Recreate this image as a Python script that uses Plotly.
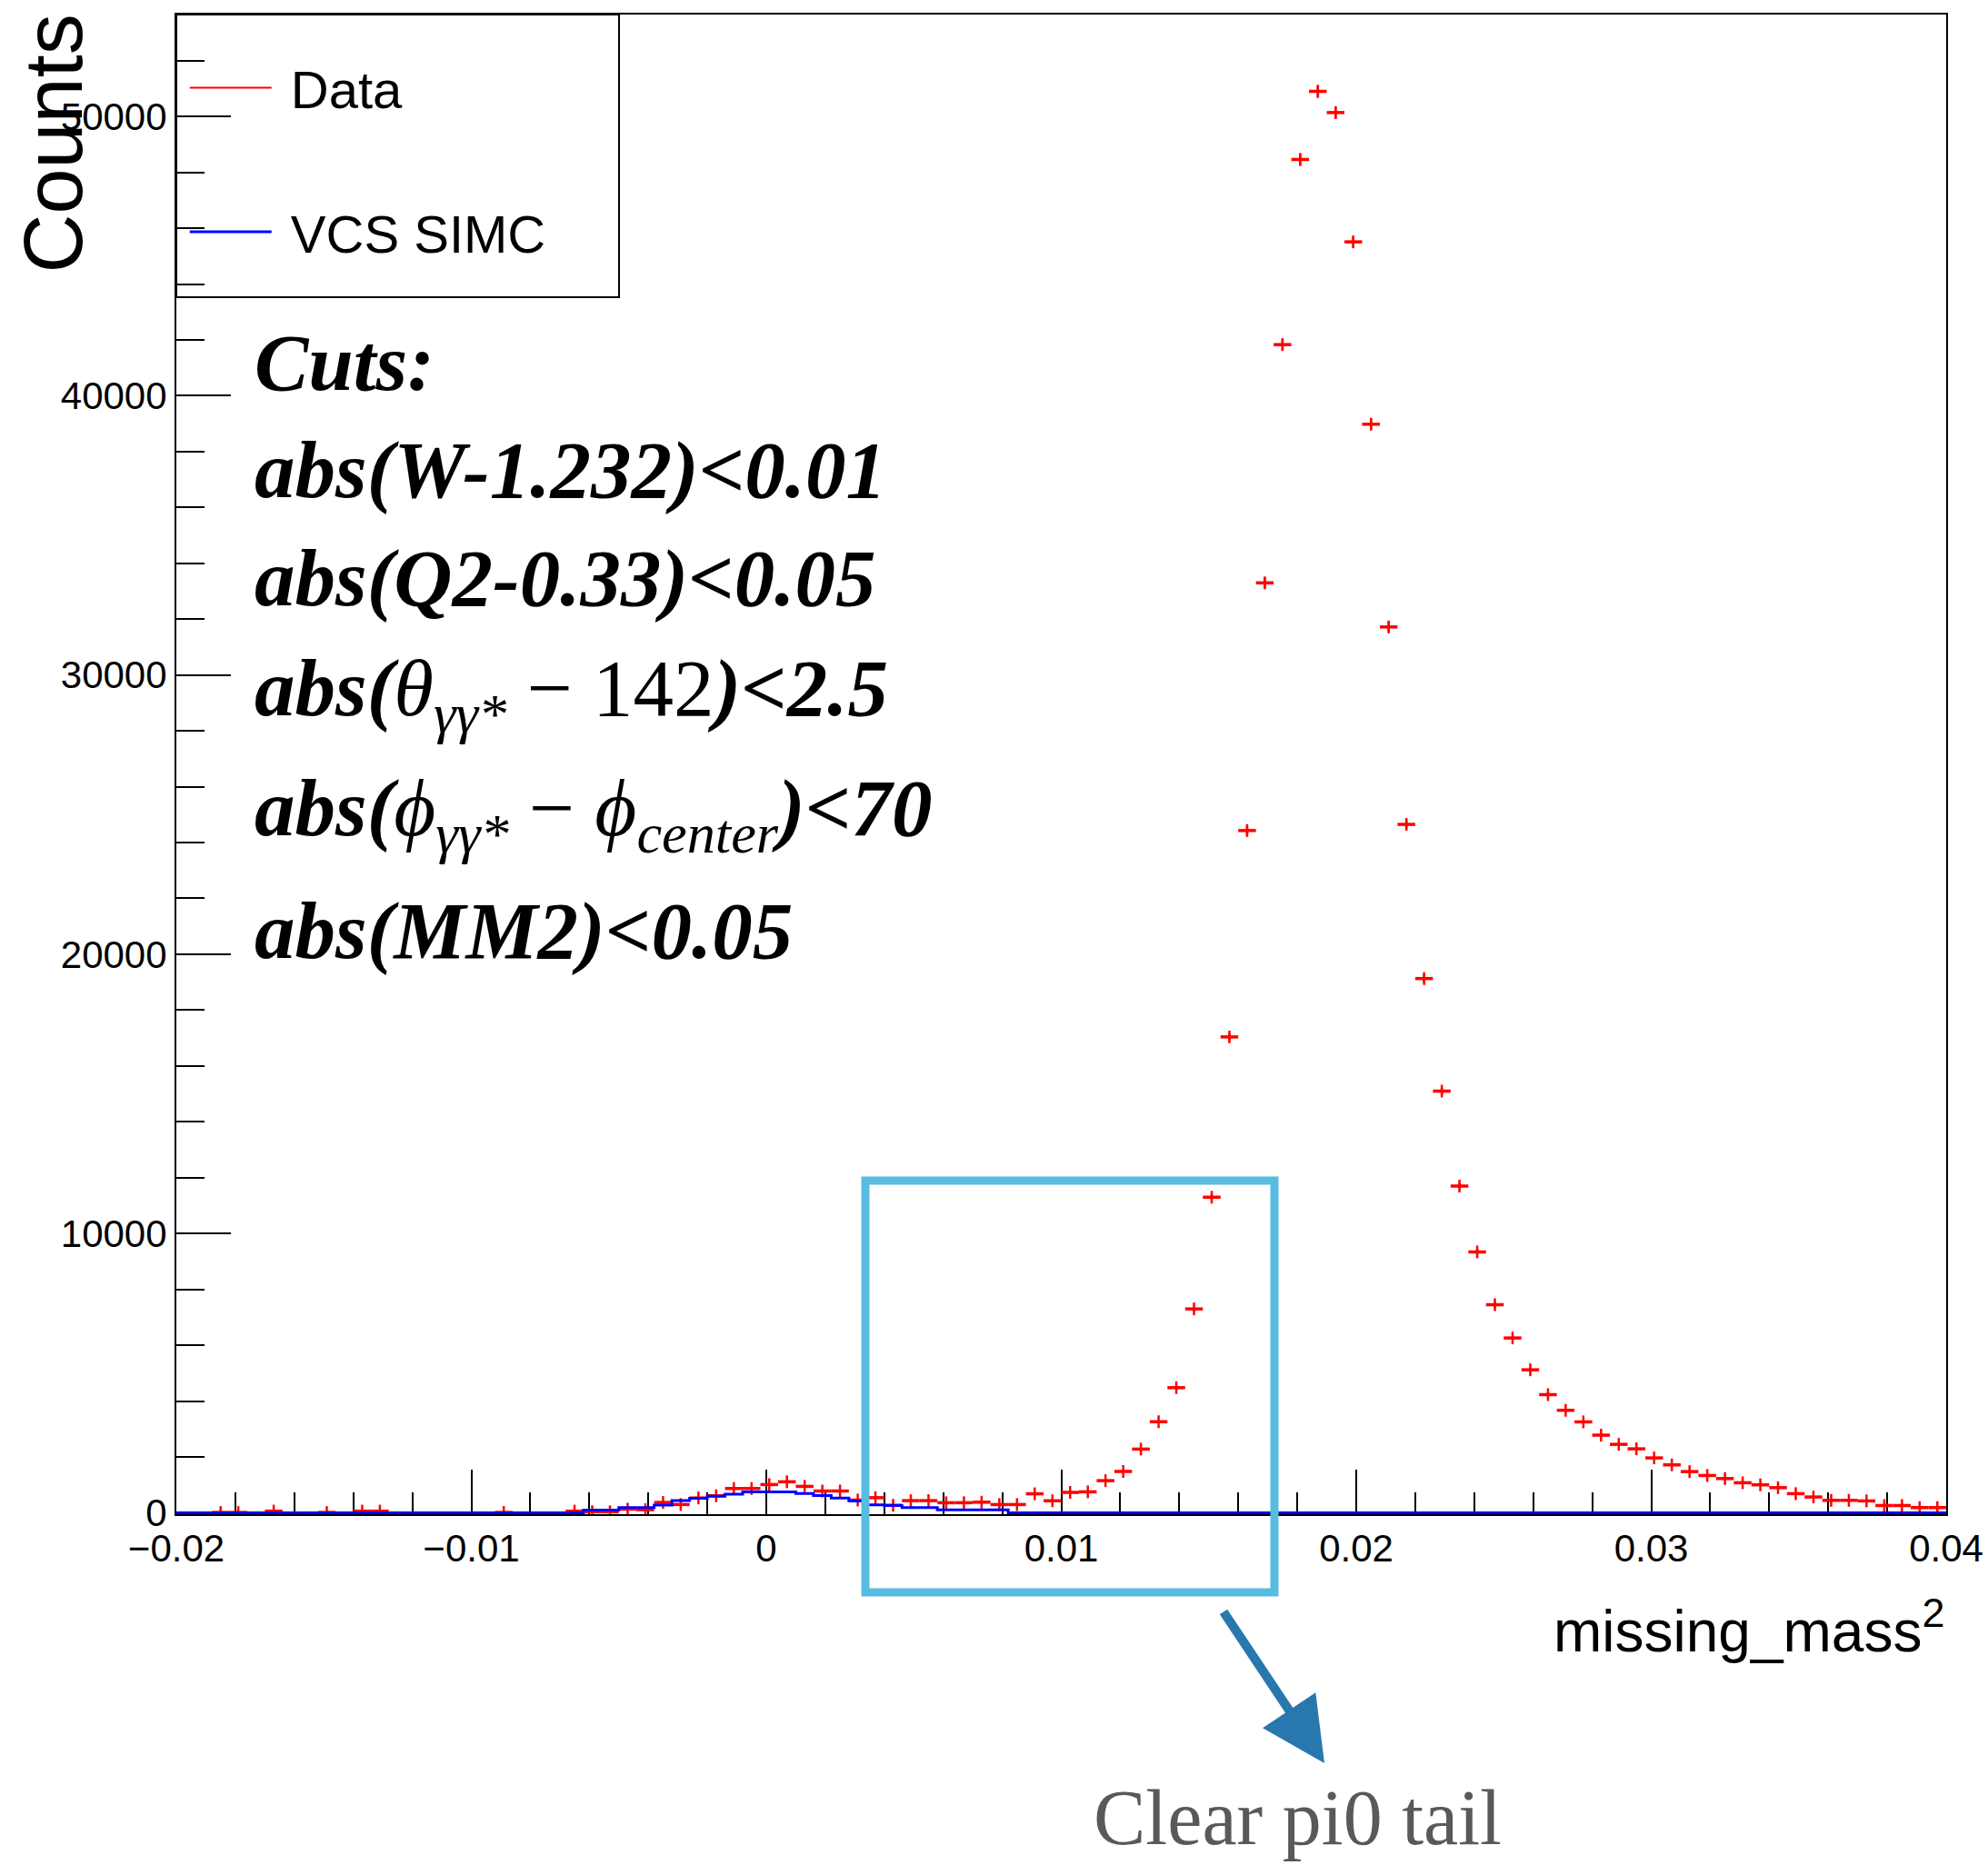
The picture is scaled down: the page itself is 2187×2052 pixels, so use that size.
import plotly.graph_objects as go

# ---------------- data ----------------
x_min, x_max, n_bins = -0.02, 0.04, 100

data_counts = [None, None, 10, 10, None, 60, None, None, 10, None,
               60, 60, None, None, None, None, None, None, 10, None,
               None, None, 60, 35, 35, 130, 110, 370, 295, 530,
               610, 870, 870, 1010, 1110, 945, 780, 780, 455, 540,
               270, 435, 435, 360, 360, 380, 295, 295, 680, 430,
               730, 750, 1150, 1480, 2280, 3260, 4480, 7300, 11300, 17040,
               24430, 33300, 41830, 48460, 50900, 50140, 45510, 38980, 31720, 24650,
               19130, 15100, 11700, 9340, 7450, 6260, 5120, 4230, 3670, 3255,
               2780, 2450, 2290, 1965, 1715, 1475, 1335, 1225, 1075, 1000,
               900, 685, 565, 445, 445, 425, 260, 260, 185, 185]

simc_counts = [0, 0, 0, 0, 0, 0, 0, 0, 0, 0,
               0, 0, 0, 0, 0, 0, 0, 0, 0, 0,
               0, 0, 0, 95, 95, 185, 185, 275, 440, 520,
               590, 670, 750, 750, 750, 690, 615, 530, 420, 280,
               260, 190, 190, 105, 105, 105, 105, 0, 0, 0,
               0, 0, 0, 0, 0, 0, 0, 0, 0, 0,
               0, 0, 0, 0, 0, 0, 0, 0, 0, 0,
               0, 0, 0, 0, 0, 0, 0, 0, 0, 0,
               0, 0, 0, 0, 0, 0, 0, 0, 0, 0,
               0, 0, 0, 0, 0, 0, 0, 0, 0, 0]

x_tick_vals = [-0.02, -0.01, 0, 0.01, 0.02, 0.03, 0.04]
x_tick_text = ["\u22120.02", "\u22120.01", "0", "0.01", "0.02", "0.03", "0.04"]
y_tick_vals = [0, 10000, 20000, 30000, 40000, 50000]
y_tick_text = ["0", "10000", "20000", "30000", "40000", "50000"]

cut_lines = [
    "<b><i>Cuts:</i></b>",
    "<b><i>abs(W-1.232)&lt;0.01</i></b>",
    "<b><i>abs(Q2-0.33)&lt;0.05</i></b>",
    "<b><i>abs(</i></b><i>\u03b8<sub>\u03b3\u03b3*</sub></i> \u2212 142<b><i>)&lt;2.5</i></b>",
    "<b><i>abs(</i></b><i>\u03d5<sub>\u03b3\u03b3*</sub></i> \u2212 <i>\u03d5<sub>center</sub></i><b><i>)&lt;70</i></b>",
    "<b><i>abs(MM2)&lt;0.05</i></b>",
]

# ---------------- derived histogram geometry ----------------
bin_w = (x_max - x_min) / n_bins
centers = [x_min + (i + 0.5) * bin_w for i in range(n_bins)]
edges = [x_min + k * bin_w for k in range(n_bins + 1)]
data_err = [v ** 0.5 if v else None for v in data_counts]

SANS = "Liberation Sans, Arial, Helvetica, sans-serif"
SERIF = "Liberation Serif, DejaVu Serif, serif"

W, H = 2187, 2052
L, R, T, B = 194, 46, 16, 386

fig = go.Figure()

# legend-only entry for data (ROOT style line sample)
fig.add_trace(go.Scatter(x=[None], y=[None], mode="lines", name="\u00a0Data",
                         line=dict(color="#ff0000", width=2), legendgroup="a"))

fig.add_trace(go.Scatter(
    x=centers, y=data_counts, mode="markers", name="Data", showlegend=False,
    marker=dict(symbol="line-ns", size=10, color="#ff0000",
                line=dict(color="#ff0000", width=2.5)),
    error_x=dict(type="constant", value=bin_w / 2, thickness=3.5, width=0, color="#ff0000"),
    error_y=dict(type="data", array=data_err, thickness=2.5, width=0, color="#ff0000"),
    legendgroup="a"))

fig.add_trace(go.Scatter(
    x=edges, y=simc_counts + [simc_counts[-1]], mode="lines", name="\u00a0VCS SIMC",
    line=dict(color="#0000ff", width=3, shape="hv"), legendgroup="b"))

axis_common = dict(showline=True, linecolor="black", linewidth=2, mirror=True,
                   ticks="inside", tickcolor="black", tickwidth=2,
                   showgrid=False, zeroline=False, layer="below traces",
                   ticklabeloverflow="allow",
                   tickfont=dict(family=SANS, size=42, color="black"))

fig.update_xaxes(range=[x_min, x_max], tickmode="array", tickvals=x_tick_vals,
                 ticktext=x_tick_text, ticklen=49,
                 minor=dict(ticks="inside", ticklen=24, tickwidth=2, tickcolor="black",
                            tickmode="linear", tick0=0, dtick=0.002, showgrid=False),
                 **axis_common)
fig.update_yaxes(range=[-50, 53650], tickmode="array", tickvals=y_tick_vals,
                 ticktext=y_tick_text, ticklen=60,
                 minor=dict(ticks="inside", ticklen=31, tickwidth=2, tickcolor="black",
                            tickmode="linear", tick0=0, dtick=2000, showgrid=False),
                 **axis_common)

pw, ph = W - L - R, H - T - B

def px(xf):
    return (xf - L) / pw

def py(yf):
    return (H - B - yf) / ph

annotations = []
line_y = [399, 517, 636, 763, 895, 1024]
for txt, yy in zip(cut_lines, line_y):
    annotations.append(dict(text=txt, xref="paper", yref="paper", x=px(278), y=py(yy),
                            xanchor="left", yanchor="middle", showarrow=False,
                            font=dict(family=SERIF, size=89, color="black")))

annotations.append(dict(text="missing_mass<sup>2</sup>", xref="paper", yref="paper",
                        x=px(2141), y=py(1790), xanchor="right", yanchor="middle",
                        showarrow=False, font=dict(family=SANS, size=64, color="black")))
annotations.append(dict(text="Counts", xref="paper", yref="paper", x=px(58), y=py(14),
                        xanchor="center", yanchor="top", textangle=-90, showarrow=False,
                        font=dict(family=SANS, size=90, color="black")))
annotations.append(dict(text="Clear pi0 tail", xref="paper", yref="paper",
                        x=px(1427), y=py(2000), xanchor="center", yanchor="middle",
                        showarrow=False, font=dict(family=SERIF, size=86, color="#595959")))
annotations.append(dict(text="", xref="paper", yref="paper", x=px(1457), y=py(1940),
                        ax=-112, ay=-168, showarrow=True, arrowhead=2, arrowsize=1.4,
                        arrowwidth=10, arrowcolor="#2878ae"))

shapes = [
    dict(type="rect", xref="paper", yref="paper", x0=0, x1=px(681), y0=py(327), y1=1,
         line=dict(color="black", width=2)),
    dict(type="rect", xref="paper", yref="paper", x0=px(952), x1=px(1402),
         y0=py(1752), y1=py(1299), line=dict(color="#58bce0", width=9)),
]

fig.update_layout(
    width=W, height=H, margin=dict(l=L, r=R, t=T, b=B, autoexpand=False),
    paper_bgcolor="white", plot_bgcolor="white",
    showlegend=True,
    legend=dict(x=0.005, y=0.978, xanchor="left", yanchor="top",
                bgcolor="rgba(0,0,0,0)", borderwidth=0, itemwidth=90,
                tracegroupgap=80, traceorder="grouped",
                font=dict(family=SANS, size=58, color="black")),
    annotations=annotations, shapes=shapes,
)

fig.write_html("out.html")
